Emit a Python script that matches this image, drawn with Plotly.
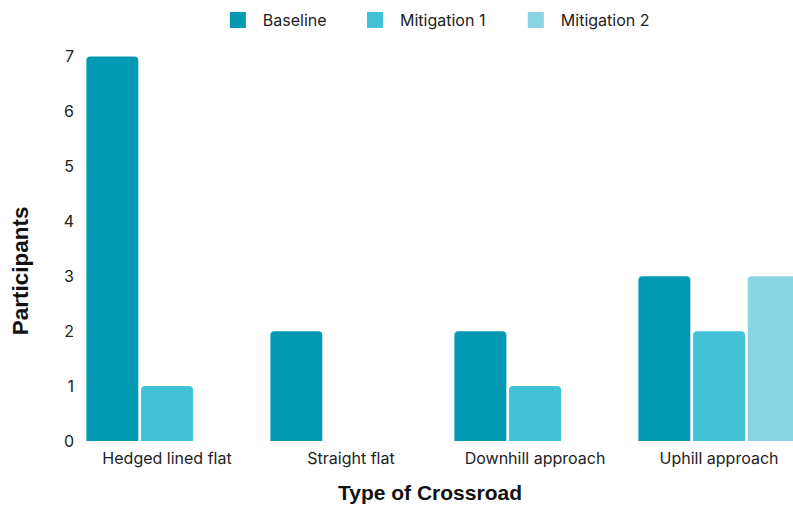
import plotly.graph_objects as go

categories = ["Hedged lined flat", "Straight flat", "Downhill approach", "Uphill approach"]
baseline = [7, 2, 2, 3]
mitigation_1 = [1, 0, 1, 2]
mitigation_2 = [0, 0, 0, 3]

series = [
    ("Baseline", baseline, "#0499B3"),
    ("Mitigation 1", mitigation_1, "#41C2D7"),
    ("Mitigation 2", mitigation_2, "#89D5E2"),
]

# one legend per series so each entry can sit at its own spot on the top row
legend_x = [0.192, 0.383, 0.607]
legend_ids = ["legend", "legend2", "legend3"]

fig = go.Figure()
for name, values, color in series:
    fig.add_trace(go.Bar(
        x=categories,
        y=values,
        name=name,
        showlegend=False,
        marker=dict(color=color, line=dict(width=0)),
    ))

# square swatches for the legend
for (name, values, color), lid in zip(series, legend_ids):
    fig.add_trace(go.Scatter(
        x=[None], y=[None],
        mode="markers",
        name=name,
        legend=lid,
        marker=dict(symbol="square", size=18, color=color),
    ))

legend_style = dict(
    orientation="h",
    xanchor="left",
    yref="container",
    y=1 - 20 / 506,
    yanchor="middle",
    bgcolor="rgba(0,0,0,0)",
    font=dict(family="Inter", size=16, color="#222222"),
    itemwidth=40,
)

layout_legends = {}
for lid, lx in zip(legend_ids, legend_x):
    layout_legends[lid] = dict(legend_style, x=lx)

# plot area in pixels: left edge, width, bottom edge (from top), height
plot_left, plot_width = 75, 718
plot_bottom, plot_height = 441, 390.5

fig.update_layout(
    width=793,
    height=506,
    barmode="group",
    bargap=0.109,
    bargroupgap=0.05,
    barcornerradius=4,
    plot_bgcolor="white",
    paper_bgcolor="white",
    margin=dict(l=plot_left, r=0, t=plot_bottom - plot_height, b=506 - plot_bottom),
    font=dict(family="Inter", size=16, color="#111111"),
    xaxis=dict(
        range=[-0.5, 3.402],
        showgrid=False,
        showline=False,
        zeroline=False,
        ticks="",
        ticklabelstandoff=6,
        tickfont=dict(family="Inter", size=16, color="#222222"),
    ),
    yaxis=dict(
        range=[0, 7.1],
        dtick=1,
        showgrid=False,
        showline=False,
        zeroline=False,
        ticks="",
        tickfont=dict(family="Inter", size=16, color="#222222"),
    ),
    annotations=[
        dict(
            text="<b>Participants</b>",
            textangle=-90,
            xref="paper", yref="paper",
            x=(20 - plot_left) / plot_width, y=0.435,
            xanchor="center", yanchor="middle",
            showarrow=False,
            font=dict(family="Liberation Sans", size=22.5, color="#111111"),
        ),
        dict(
            text="<b>Type of Crossroad</b>",
            xref="paper", yref="paper",
            x=(429.5 - plot_left) / plot_width,
            y=(plot_bottom - 493) / plot_height,
            xanchor="center", yanchor="middle",
            showarrow=False,
            font=dict(family="Liberation Sans", size=21, color="#111111"),
        ),
    ],
    **layout_legends,
)

fig.write_html("out.html")
